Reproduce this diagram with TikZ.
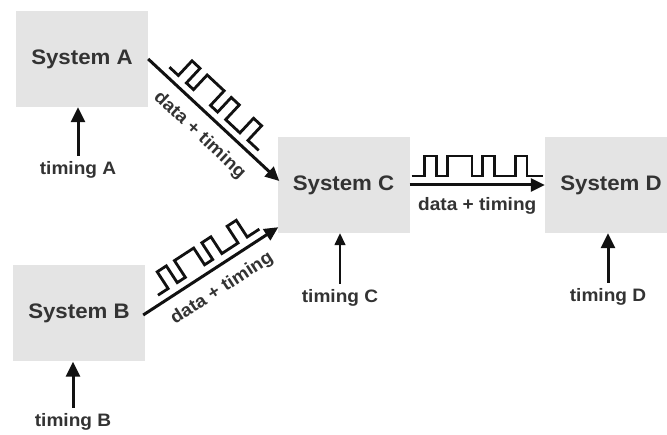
\documentclass[tikz,border=0pt]{standalone}
\usepackage{fontspec}
\setmainfont{Liberation Sans}[FakeStretch=1.06]
\usetikzlibrary{arrows.meta,calc}
\definecolor{boxgray}{HTML}{E4E4E4}
\definecolor{ink}{HTML}{333333}
\definecolor{wire}{HTML}{111111}
\begin{document}
\begin{tikzpicture}[x=1pt,y=-1pt,
  sys/.style={fill=boxgray, minimum width=132pt, minimum height=96pt, inner sep=0pt,
              font=\fontsize{21}{21}\selectfont\bfseries, text=ink},
  lbl/.style={font=\fontsize{18}{18}\selectfont\bfseries, text=ink, inner sep=0pt, anchor=base},
  flowlbl/.style={font=\fontsize{18}{18}\selectfont\bfseries, text=ink, inner sep=0pt},
  flow/.style={line width=3pt, draw=wire, -{Triangle[length=14pt,width=13pt]}},
  clk/.style={line width=3pt, draw=wire, shorten <=6pt, -{Triangle[length=15pt,width=14pt]}},
  clkthin/.style={line width=1.5pt, draw=wire, shorten <=6pt, -{Triangle[length=12pt,width=11pt]}},
  sig/.style={line width=2.8pt, draw=wire},
]
\path[use as bounding box, fill=white] (0,0) rectangle (667,435);
\clip (0,0) rectangle (667,435);

% pulse train in normalised local coordinates (u in [0,1], v upward)
\newcommand{\pulsetrain}{%
  \draw[sig] (0,-9) -- (.10,-9) -- (.10,-29) -- (.19,-29) -- (.19,-9) -- (.27,-9)
    -- (.27,-29) -- (.46,-29) -- (.46,-9) -- (.54,-9) -- (.54,-29) -- (.63,-29)
    -- (.63,-9) -- (.79,-9) -- (.79,-29) -- (.88,-29) -- (.88,-9) -- (1,-9);}

% systems
\node[sys] (A) at (82,59) {System A};
\node[sys] (B) at (79,313.5) {System B};
\node[sys] (C) at (343.5,185) {System C};
\node[sys] (D) at (611,185) {System D};

% timing inputs
\node[lbl] (tA) at (78,175) {timing A};
\node[lbl] (tB) at (73,427) {timing B};
\node[lbl] (tC) at (340,303) {timing C};
\node[lbl] (tD) at (608,302) {timing D};
\draw[clk] (tA.north) -- (tA.north |- A.south);
\draw[clk] (tB.north) -- (tB.north |- B.south);
\draw[clkthin] (tC.north) -- (tC.north |- C.south);
\draw[clk] (tD.north) -- (tD.north |- D.south);

% data links
\draw[flow] (A.east) -- ($(C.west)+(2,-4)$)
  node[flowlbl, midway, sloped, below=11pt] {data + timing};
\draw[flow] ($(B.east)+(-2,1.5)$) -- ($(C.south west)+(1,-6)$)
  node[flowlbl, midway, sloped, below=11pt] {data + timing};
\draw[flow] (C.east) -- (D.west)
  node[flowlbl, midway, below=11pt] {data + timing};

% waveforms riding on the links
\begin{scope}[shift={($(A.east)!0.117!(C.west)$)}, rotate=-43, xscale=122]
  \pulsetrain
\end{scope}
\begin{scope}[shift={($(B.east)!0.134!(C.south west)$)}, rotate=33.1, xscale=121]
  \pulsetrain
\end{scope}
\begin{scope}[shift={($(C.east)!0.015!(D.west)$)}, xscale=131]
  \pulsetrain
\end{scope}
\end{tikzpicture}
\end{document}
